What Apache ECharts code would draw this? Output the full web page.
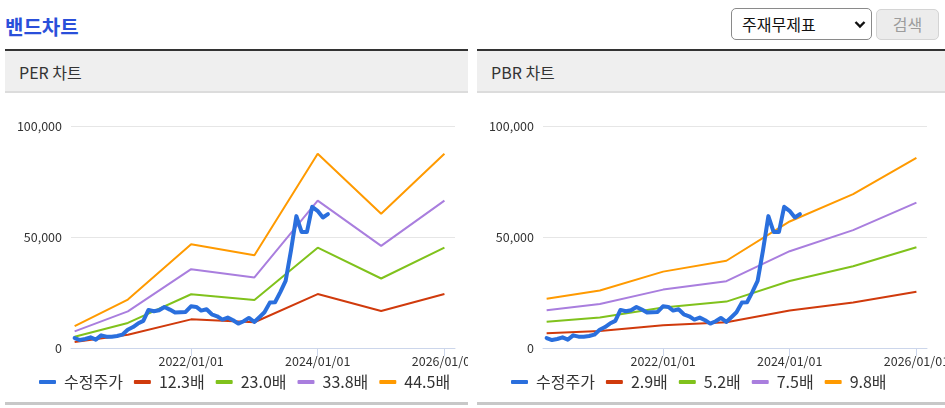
<!DOCTYPE html>
<html><head><meta charset="utf-8">
<script src="https://cdn.jsdelivr.net/npm/echarts@6/dist/echarts.min.js"></script>
<style>
html,body{margin:0;padding:0;background:#fff;width:945px;height:408px;overflow:hidden;font-family:"Noto Sans CJK KR","Noto Sans",sans-serif;}
#title{position:absolute;left:5px;top:13px;font-size:20px;font-weight:bold;color:#2a4fda;line-height:28px;white-space:nowrap;}
#sel{position:absolute;left:731px;top:8px;width:139px;height:30px;border:1px solid #8a8a8a;border-radius:5px;background:#fff;font-size:16px;line-height:30px;color:#111;}
#sel span{position:absolute;left:10px;top:0;}
#sel svg{position:absolute;left:122px;top:11px;}
#btn{position:absolute;left:876px;top:9px;width:61px;height:29px;border:1px solid #d4d4d4;border-radius:5px;background:#ececec;color:#9c9c9c;font-size:16px;line-height:29px;text-align:center;}
.panel{position:absolute;top:49px;border-top:2px solid #333;border-bottom:3px solid #c8c8c8;height:351px;overflow:hidden;}
.phead{height:40px;background:#efefef;border-bottom:2px solid #dcdcdc;font-size:16px;color:#333;line-height:43px;padding-left:14px;white-space:nowrap;}
.chart{height:309px;}
</style>
</head><body>
<div id="title">밴드차트</div>
<div id="sel"><span>주재무제표</span><svg width="12" height="9" viewBox="0 0 12 9"><polyline points="1.5,2 6,6.5 10.5,2" fill="none" stroke="#111" stroke-width="2.4"/></svg></div>
<div id="btn">검색</div>
<div class="panel" style="left:5px;width:463px;"><div class="phead">PER 차트</div><div id="c1" class="chart" style="width:463px;"></div></div>
<div class="panel" style="left:477px;width:468px;"><div class="phead">PBR 차트</div><div id="c2" class="chart" style="width:468px;"></div></div>
<script>
// month-end adjusted price dates
const priceDates = ['2020-02-29','2020-03-31','2020-04-30','2020-05-31','2020-06-30','2020-07-31','2020-08-31','2020-09-30','2020-10-31','2020-11-30','2020-12-31',
'2021-01-31','2021-02-28','2021-03-31','2021-04-30','2021-05-31','2021-06-30','2021-07-31','2021-08-31','2021-09-30','2021-10-31','2021-11-30','2021-12-31',
'2022-01-31','2022-02-28','2022-03-31','2022-04-30','2022-05-31','2022-06-30','2022-07-31','2022-08-31','2022-09-30','2022-10-31','2022-11-30','2022-12-31',
'2023-01-31','2023-02-28','2023-03-31','2023-04-30','2023-05-31','2023-06-30','2023-07-31','2023-08-31','2023-09-30','2023-10-31','2023-11-30','2023-12-31',
'2024-01-31','2024-02-29'];
const priceValues = [4500,3600,4050,4800,3750,5700,5100,5100,5400,6000,8250,
9450,11000,12200,17150,16550,17000,18500,17300,15950,16100,16250,18800,
18500,16850,17450,15200,14300,12800,13700,12500,11000,12050,13550,11750,
14000,16100,20450,20600,25250,30200,44000,59400,52300,52300,63600,61800,
58800,60300];
const bandDates = ['2020-02-29','2021-01-01','2022-01-01','2023-01-01','2024-01-01','2025-01-01','2026-01-01'];
const perNames = ['12.3배','23.0배','33.8배','44.5배'];
const per1 = [2700,6000,12900,11600,24300,16700,24300];
const per2 = [5100,11300,24200,21600,45200,31300,45200];
const per3 = [7500,16500,35500,31800,66400,46000,66400];
const per4 = [9900,21800,46700,41800,87500,60500,87500];
const pbrNames = ['2.9배','5.2배','7.5배','9.8배'];
const pbr1 = [6700,7700,10200,11600,16900,20500,25300];
const pbr2 = [11800,13700,18200,20900,30200,36800,45400];
const pbr3 = [17000,19800,26300,30100,43600,53100,65500];
const pbr4 = [22200,25900,34400,39300,57000,69300,85600];
const xTicks = ['2022-01-01','2024-01-01','2026-01-01'];
const xRange = ['2020-02-08','2026-03-03'];
const yTicks = [0,50000,100000];
const priceName = '수정주가';
const colors = ['#2a6fdd','#d03a0c','#80c21c','#a97ede','#ff9a00'];

const FONT = '"Noto Sans CJK KR","Noto Sans",sans-serif';
function ts(s){const p=s.split('-').map(Number);return new Date(p[0],p[1]-1,p[2]).getTime();}
function fmtDate(v){const d=new Date(v);return d.getFullYear()+'/'+String(d.getMonth()+1).padStart(2,'0')+'/'+String(d.getDate()).padStart(2,'0');}
function pair(dates, vals){return dates.map((d,i)=>[ts(d), vals[i]]);}
function makeOption(names, bands, gridRight){
  const series = [{
    name: priceName, type:'line', data: pair(priceDates, priceValues), symbol:'none', showSymbol:false, z:4,
    lineStyle:{width:4,color:colors[0],join:'round',cap:'round'}, itemStyle:{color:colors[0]}
  }];
  bands.forEach((b,i)=>series.push({
    name:names[i], type:'line', data: pair(bandDates,b), symbol:'none', showSymbol:false, z:2,
    lineStyle:{width:2,color:colors[i+1]}, itemStyle:{color:colors[i+1]}
  }));
  const tickVals = xTicks.map(ts);
  return {
    animation:false,
    textStyle:{fontFamily:FONT},
    grid:{left:66,right:gridRight,top:33,bottom:54,containLabel:false,outerBoundsMode:'none'},
    legend:{left:34,top:281,padding:0,icon:'roundRect',itemWidth:17,itemHeight:4,itemGap:11,
      data:[priceName].concat(names),
      textStyle:{fontSize:16,color:'#333',fontFamily:FONT,padding:[0,0,0,3]}},
    xAxis:{type:'value',min:ts(xRange[0]),max:ts(xRange[1]),scale:true,
      splitLine:{show:false},
      axisLine:{lineStyle:{color:'#ccd6eb',width:1}},
      axisTick:{show:true,length:8,customValues:tickVals,lineStyle:{color:'#ccd6eb'}},
      axisLabel:{customValues:tickVals,formatter:fmtDate,color:'#333',fontSize:12.5,margin:7,fontFamily:FONT}},
    yAxis:{type:'value',min:yTicks[0],max:yTicks[yTicks.length-1],interval:yTicks[1]-yTicks[0],
      axisLine:{show:false},axisTick:{show:false},
      splitLine:{lineStyle:{color:'#e6e6e6',width:1}},
      axisLabel:{formatter:v=>v.toLocaleString('en-US'),color:'#333',fontSize:12.5,margin:9,fontFamily:FONT}},
    series: series
  };
}
echarts.init(document.getElementById('c1')).setOption(makeOption(perNames,[per1,per2,per3,per4],13));
echarts.init(document.getElementById('c2')).setOption(makeOption(pbrNames,[pbr1,pbr2,pbr3,pbr4],18));
</script>
</body></html>
